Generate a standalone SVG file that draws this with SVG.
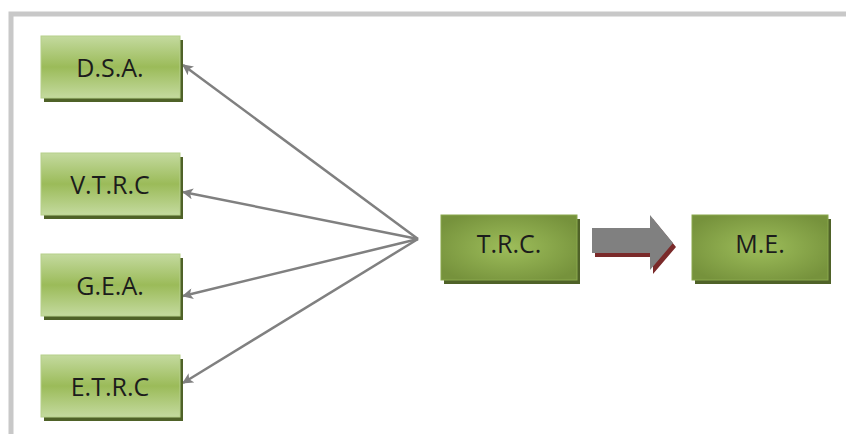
<svg xmlns="http://www.w3.org/2000/svg" width="846" height="434" viewBox="0 0 846 434">
<defs>
<linearGradient id="gl" x1="0" y1="0" x2="0" y2="1">
<stop offset="0" stop-color="#c4da9f"/>
<stop offset="0.5" stop-color="#9bbb59"/>
<stop offset="1" stop-color="#c4da9f"/>
</linearGradient>
<radialGradient id="gr" cx="0.5" cy="0.5" r="0.6">
<stop offset="0" stop-color="#9dbd5a"/>
<stop offset="1" stop-color="#76923c"/>
</radialGradient>
<marker id="ah" viewBox="0 0 10 10" refX="9" refY="5" markerWidth="12" markerHeight="11" markerUnits="userSpaceOnUse" orient="auto">
<path d="M0,0 L10,5 L0,10 L2.5,5 z" fill="#808080"/>
</marker>
<style>
.sh{fill:#4f6228}
.bl{fill:url(#gl);stroke:#b6d08a;stroke-width:1}
.br{fill:url(#gr);stroke:#8aa84c;stroke-width:1}
.t{font-family:"Open Sans","Liberation Sans",sans-serif;font-size:25px;fill:#1c1c1c;text-anchor:middle}
.c{stroke:#808080;stroke-width:2.5;fill:none;marker-end:url(#ah)}
</style>
</defs>
<rect x="0" y="0" width="846" height="434" fill="#ffffff"/>
<rect x="11" y="14" width="900" height="500" fill="none" stroke="#c8c8c8" stroke-width="5"/>
<g id="connectors">
<line class="c" x1="418" y1="239" x2="183" y2="65"/>
<line class="c" x1="418" y1="239" x2="183" y2="192"/>
<line class="c" x1="418" y1="239" x2="183" y2="296"/>
<line class="c" x1="418" y1="239" x2="183" y2="383"/>
<g id="block-arrow">
<path d="M595,232 L653,232 L653,219 L676,247 L653,274 L653,257 L595,257 z" fill="#7a2a2a"/>
<path d="M592,228 L650,228 L650,215 L673,243 L650,270 L650,253 L592,253 z" fill="#808080"/>
</g>
</g>
<g id="dsa">
<rect class="sh" x="44" y="40" width="139" height="62"/>
<rect class="bl" x="41" y="36" width="139" height="62"/>
<text class="t" x="110" y="77">D.S.A.</text>
</g>
<g id="vtrc">
<rect class="sh" x="44" y="157" width="139" height="62"/>
<rect class="bl" x="41" y="153" width="139" height="62"/>
<text class="t" x="110" y="194">V.T.R.C</text>
</g>
<g id="gea">
<rect class="sh" x="44" y="258" width="139" height="62"/>
<rect class="bl" x="41" y="254" width="139" height="62"/>
<text class="t" x="110" y="295">G.E.A.</text>
</g>
<g id="etrc">
<rect class="sh" x="44" y="359" width="139" height="62"/>
<rect class="bl" x="41" y="355" width="139" height="62"/>
<text class="t" x="110" y="396">E.T.R.C</text>
</g>
<g id="trc">
<rect class="sh" x="444" y="219" width="136" height="65"/>
<rect class="br" x="441" y="215" width="136" height="65"/>
<text class="t" x="509" y="253">T.R.C.</text>
</g>
<g id="me">
<rect class="sh" x="695" y="219" width="136" height="65"/>
<rect class="br" x="692" y="215" width="136" height="65"/>
<text class="t" x="760" y="253">M.E.</text>
</g>
</svg>
